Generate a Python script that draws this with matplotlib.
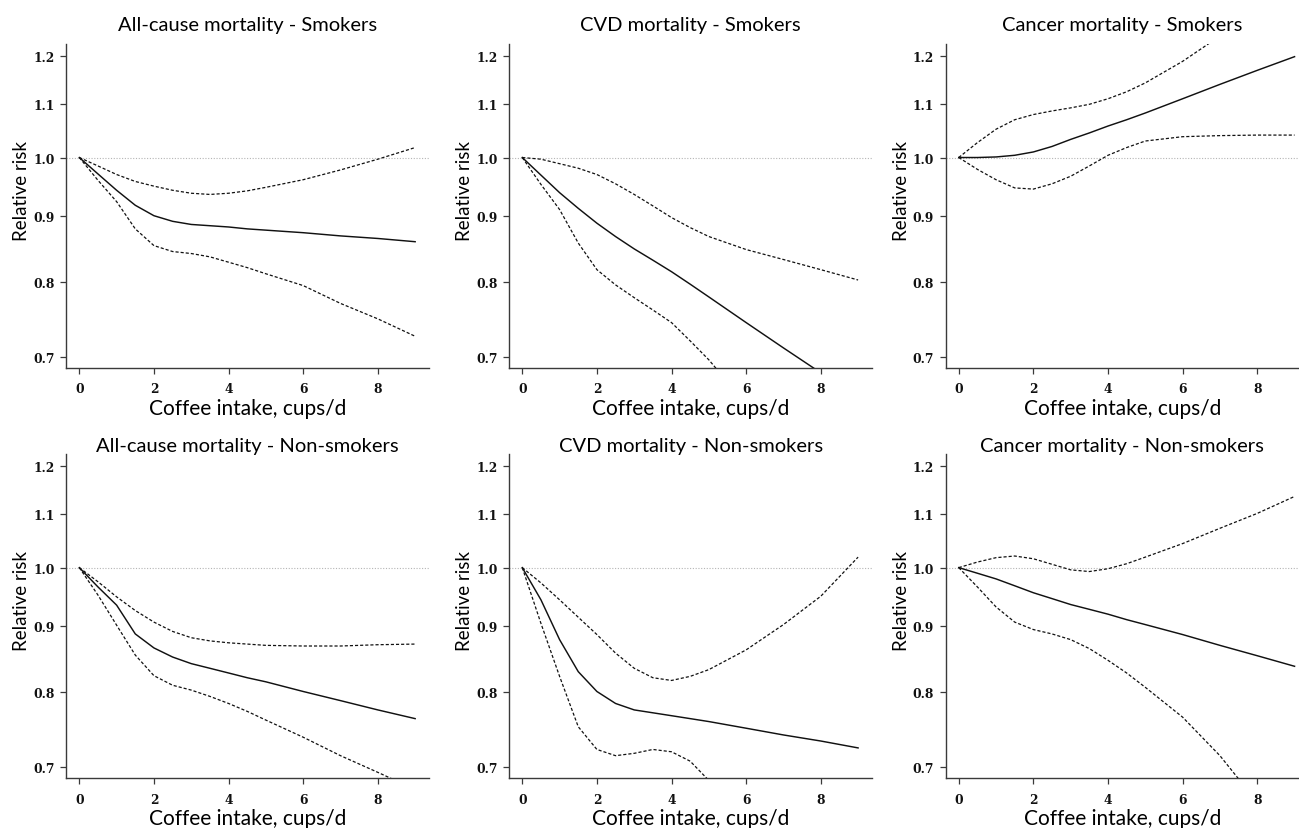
import numpy as np
import matplotlib
matplotlib.use("Agg")
import matplotlib.pyplot as plt
from matplotlib.ticker import FixedLocator, FixedFormatter, NullLocator

# coffee intake grid (cups/d)
cups = [0, 0.5, 1, 1.5, 2, 2.5, 3, 3.5, 4, 4.5, 5, 6, 7, 8, 9]
nan = np.nan

titles = ["All-cause mortality - Smokers", "CVD mortality - Smokers",
          "Cancer mortality - Smokers", "All-cause mortality - Non-smokers",
          "CVD mortality - Non-smokers", "Cancer mortality - Non-smokers"]

# relative risk, lower and upper 95% CI
allcause_smk_rr = [1.0, 0.971, 0.943, 0.918, 0.901, 0.892, 0.887, 0.885, 0.883, 0.880, 0.878, 0.874, 0.869, 0.865, 0.860]
allcause_smk_lo = [1.0, 0.960, 0.924, 0.880, 0.854, 0.845, 0.842, 0.837, 0.829, 0.821, 0.812, 0.795, 0.770, 0.749, 0.726]
allcause_smk_hi = [1.0, 0.985, 0.970, 0.958, 0.950, 0.943, 0.938, 0.936, 0.938, 0.942, 0.948, 0.961, 0.978, 0.997, 1.018]

cvd_smk_rr = [1.0, 0.969, 0.939, 0.913, 0.889, 0.868, 0.849, 0.832, 0.815, 0.797, 0.779, 0.744, 0.711, 0.680, nan]
cvd_smk_lo = [1.0, 0.953, 0.911, 0.858, 0.818, 0.796, 0.778, 0.761, 0.744, 0.720, 0.696, 0.643, nan, nan, nan]
cvd_smk_hi = [1.0, 0.997, 0.989, 0.981, 0.970, 0.954, 0.936, 0.917, 0.898, 0.882, 0.868, 0.848, 0.833, 0.818, 0.803]

cancer_smk_rr = [1.0, 1.000, 1.001, 1.004, 1.010, 1.020, 1.033, 1.045, 1.058, 1.070, 1.083, 1.111, 1.140, 1.169, 1.198]
cancer_smk_lo = [1.0, 0.979, 0.961, 0.947, 0.945, 0.954, 0.967, 0.985, 1.004, 1.018, 1.030, 1.038, 1.040, 1.041, 1.041]
cancer_smk_hi = [1.0, 1.027, 1.052, 1.070, 1.080, 1.087, 1.093, 1.100, 1.111, 1.125, 1.143, 1.188, 1.243, nan, nan]

allcause_non_rr = [1.0, 0.966, 0.935, 0.888, 0.866, 0.852, 0.842, 0.835, 0.828, 0.821, 0.815, 0.801, 0.788, 0.775, 0.763]
allcause_non_lo = [1.0, 0.952, 0.902, 0.855, 0.824, 0.810, 0.803, 0.794, 0.784, 0.773, 0.761, 0.738, 0.714, 0.693, 0.672]
allcause_non_hi = [1.0, 0.975, 0.949, 0.926, 0.907, 0.892, 0.882, 0.877, 0.874, 0.872, 0.870, 0.869, 0.869, 0.871, 0.872]

cvd_non_rr = [1.0, 0.944, 0.879, 0.830, 0.801, 0.784, 0.775, 0.771, 0.767, 0.763, 0.759, 0.750, 0.741, 0.733, 0.724]
cvd_non_lo = [1.0, 0.905, 0.823, 0.752, 0.722, 0.714, 0.717, 0.722, 0.719, 0.707, 0.683, nan, nan, nan, nan]
cvd_non_hi = [1.0, 0.973, 0.944, 0.915, 0.887, 0.858, 0.835, 0.821, 0.817, 0.823, 0.833, 0.863, 0.903, 0.950, 1.019]

cancer_non_rr = [1.0, 0.990, 0.980, 0.968, 0.956, 0.946, 0.936, 0.928, 0.920, 0.911, 0.903, 0.887, 0.870, 0.854, 0.838]
cancer_non_lo = [1.0, 0.966, 0.932, 0.907, 0.895, 0.888, 0.879, 0.865, 0.847, 0.828, 0.807, 0.765, 0.714, 0.657, nan]
cancer_non_hi = [1.0, 1.010, 1.018, 1.021, 1.016, 1.006, 0.996, 0.993, 0.998, 1.007, 1.019, 1.044, 1.073, 1.102, 1.136]

series = [
    (allcause_smk_rr, allcause_smk_lo, allcause_smk_hi),
    (cvd_smk_rr, cvd_smk_lo, cvd_smk_hi),
    (cancer_smk_rr, cancer_smk_lo, cancer_smk_hi),
    (allcause_non_rr, allcause_non_lo, allcause_non_hi),
    (cvd_non_rr, cvd_non_lo, cvd_non_hi),
    (cancer_non_rr, cancer_non_lo, cancer_non_hi),
]

yticks = [0.7, 0.8, 0.9, 1.0, 1.1, 1.2]
xticks = [0, 2, 4, 6, 8]

fig = plt.figure(figsize=(12.99, 8.29), dpi=100)

lefts = [0.051, 0.392, 0.728]
bottoms = [0.555, 0.0603]
w_full = 0.2795
x0, x1 = -0.35, 9.38

label_font = "Lato"
tick_font = "DejaVu Serif"
axcol = "#3a3a3a"

for i in range(6):
    row, col = i // 3, i % 3
    left = lefts[col]
    w = min(w_full, 1.0 - left)
    ax = fig.add_axes([left, bottoms[row], w, 0.391])
    rr, lo, hi = series[i]

    # reference line at RR = 1
    ax.axhline(1.0, color="#b5b5b5", lw=0.8, ls=(0, (1, 1.5)), zorder=1)
    ax.plot(cups, rr, color="#111111", lw=1.05, zorder=3)
    ax.plot(cups, lo, color="#111111", lw=0.9, ls=(0, (2.5, 1.6)), zorder=3)
    ax.plot(cups, hi, color="#111111", lw=0.9, ls=(0, (2.5, 1.6)), zorder=3)

    ax.set_yscale("log")
    ax.set_ylim(0.686, 1.226)
    ax.set_xlim(x0, x0 + (x1 - x0) * w / w_full)
    ax.yaxis.set_major_locator(FixedLocator(yticks))
    ax.yaxis.set_major_formatter(FixedFormatter([f"{t:.1f}" for t in yticks]))
    ax.yaxis.set_minor_locator(NullLocator())
    ax.set_xticks(xticks)

    for s in ["top", "right"]:
        ax.spines[s].set_visible(False)
    for s in ["left", "bottom"]:
        ax.spines[s].set_color(axcol)
        ax.spines[s].set_linewidth(1.0)
    ax.tick_params(direction="out", length=4.5, width=0.9, color=axcol)
    ax.tick_params(axis="y", pad=4)
    ax.tick_params(axis="x", pad=6)
    for lab in ax.get_xticklabels() + ax.get_yticklabels():
        lab.set_fontfamily(tick_font)
        lab.set_fontweight("bold")
        lab.set_fontsize(8.8)
        lab.set_color("#111111")

    ax.set_xlabel("Coffee intake, cups/d", fontfamily=label_font, fontsize=15, labelpad=2)
    ax.set_ylabel("Relative risk", fontfamily=label_font, fontsize=13.5)
    ax.yaxis.set_label_coords(-0.1, 0.55)
    ax.set_title(titles[i], fontfamily=label_font, fontsize=14.5,
                 pad=10 if row == 0 else 1)

fig.savefig("out.png", dpi=100)
